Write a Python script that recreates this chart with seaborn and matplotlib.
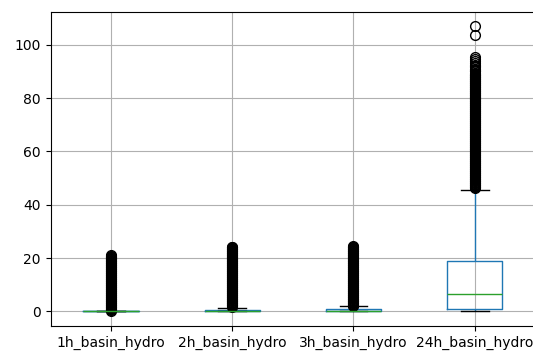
import numpy as np
import pandas as pd
import matplotlib
matplotlib.use("Agg")
import matplotlib.pyplot as plt
import seaborn as sns

# Basin rainfall accumulations (mm) for four aggregation windows
columns = ["1h_basin_hydro", "2h_basin_hydro", "3h_basin_hydro", "24h_basin_hydro"]

# Bulk of the observations, as (value, count) pairs
core_1h = [(0.0, 300)]
core_2h = [(0.0, 400), (0.7, 200), (1.4, 60)]
core_3h = [(0.0, 400), (0.8, 200), (1.9, 60)]
core_24h = [(0.0, 100), (1.0, 300), (6.6, 300), (19.0, 300), (45.4, 100)]

# Extreme observations lying beyond the whiskers
extreme_1h = [
    0.25, 0.5, 0.75, 1.0, 1.25, 1.5, 1.75, 2.0, 2.25, 2.5, 2.75, 3.0,
    3.25, 3.5, 3.75, 4.0, 4.25, 4.5, 4.75, 5.0, 5.25, 5.5, 5.75, 6.0,
    6.25, 6.5, 6.75, 7.0, 7.25, 7.5, 7.75, 8.0, 8.25, 8.5, 8.75, 9.0,
    9.25, 9.5, 9.75, 10.0, 10.25, 10.5, 10.75, 11.0, 11.25, 11.5, 11.75, 12.0,
    12.25, 12.5, 12.75, 13.0, 13.25, 13.5, 13.75, 14.0, 14.25, 14.5, 14.75, 15.0,
    15.25, 15.5, 15.75, 16.0, 16.25, 16.5, 16.75, 17.0, 17.25, 17.5, 17.75, 18.0,
    18.25, 18.5, 18.75, 19.0, 19.25, 19.5, 19.75, 20.0, 20.25, 20.5, 20.75, 21.0,
]
extreme_2h = [
    1.8, 2.0, 2.25, 2.5, 2.75, 3.0, 3.25, 3.5, 3.75, 4.0, 4.25, 4.5, 4.75, 5.0,
    5.25, 5.5, 5.75, 6.0, 6.25, 6.5, 6.75, 7.0, 7.25, 7.5, 7.75, 8.0,
    8.25, 8.5, 8.75, 9.0, 9.25, 9.5, 9.75, 10.0, 10.25, 10.5, 10.75, 11.0,
    11.25, 11.5, 11.75, 12.0, 12.25, 12.5, 12.75, 13.0, 13.25, 13.5, 13.75, 14.0,
    14.25, 14.5, 14.75, 15.0, 15.25, 15.5, 15.75, 16.0, 16.25, 16.5, 16.75, 17.0,
    17.25, 17.5, 17.75, 18.0, 18.25, 18.5, 18.75, 19.0, 19.25, 19.5, 19.75, 20.0,
    20.25, 20.5, 20.75, 21.0, 21.25, 21.5, 21.75, 22.0, 22.25, 22.5, 22.75, 23.0,
    23.25, 23.5, 23.75, 24.0, 24.2,
]
extreme_3h = [
    2.1, 2.25, 2.5, 2.75, 3.0, 3.25, 3.5, 3.75, 4.0, 4.25, 4.5, 4.75, 5.0,
    5.25, 5.5, 5.75, 6.0, 6.25, 6.5, 6.75, 7.0, 7.25, 7.5, 7.75, 8.0,
    8.25, 8.5, 8.75, 9.0, 9.25, 9.5, 9.75, 10.0, 10.25, 10.5, 10.75, 11.0,
    11.25, 11.5, 11.75, 12.0, 12.25, 12.5, 12.75, 13.0, 13.25, 13.5, 13.75, 14.0,
    14.25, 14.5, 14.75, 15.0, 15.25, 15.5, 15.75, 16.0, 16.25, 16.5, 16.75, 17.0,
    17.25, 17.5, 17.75, 18.0, 18.25, 18.5, 18.75, 19.0, 19.25, 19.5, 19.75, 20.0,
    20.25, 20.5, 20.75, 21.0, 21.25, 21.5, 21.75, 22.0, 22.25, 22.5, 22.75, 23.0,
    23.25, 23.5, 23.75, 24.0, 24.25, 24.5,
]
extreme_24h = [
    46.25, 46.5, 46.75, 47.0, 47.25, 47.5, 47.75, 48.0, 48.25, 48.5, 48.75, 49.0,
    49.25, 49.5, 49.75, 50.0, 50.25, 50.5, 50.75, 51.0, 51.25, 51.5, 51.75, 52.0,
    52.25, 52.5, 52.75, 53.0, 53.25, 53.5, 53.75, 54.0, 54.25, 54.5, 54.75, 55.0,
    55.25, 55.5, 55.75, 56.0, 56.25, 56.5, 56.75, 57.0, 57.25, 57.5, 57.75, 58.0,
    58.25, 58.5, 58.75, 59.0, 59.25, 59.5, 59.75, 60.0, 60.25, 60.5, 60.75, 61.0,
    61.25, 61.5, 61.75, 62.0, 62.25, 62.5, 62.75, 63.0, 63.25, 63.5, 63.75, 64.0,
    64.25, 64.5, 64.75, 65.0, 65.25, 65.5, 65.75, 66.0, 66.25, 66.5, 66.75, 67.0,
    67.25, 67.5, 67.75, 68.0, 68.25, 68.5, 68.75, 69.0, 69.25, 69.5, 69.75, 70.0,
    70.25, 70.5, 70.75, 71.0, 71.25, 71.5, 71.75, 72.0, 72.25, 72.5, 72.75, 73.0,
    73.25, 73.5, 73.75, 74.0, 74.25, 74.5, 74.75, 75.0, 75.25, 75.5, 75.75, 76.0,
    76.25, 76.5, 76.75, 77.0, 77.25, 77.5, 77.75, 78.0, 78.25, 78.5, 78.75, 79.0,
    79.25, 79.5, 79.75, 80.0, 80.25, 80.5, 80.75, 81.0, 81.25, 81.5, 81.75, 82.0,
    82.25, 82.5, 82.75, 83.0, 83.25, 83.5, 83.75, 84.0, 84.25, 84.5, 84.75, 85.0,
    85.25, 85.5, 85.75, 86.0, 86.25, 86.5, 86.75, 87.0, 87.25, 87.5, 87.75, 88.0,
    88.25, 88.5, 88.75, 89.0, 89.5, 90.0, 90.25, 90.5, 91.0, 91.5, 92.0,
    92.5, 93.0, 93.8, 94.5, 95.2,
    103.8, 107.0,
]

cores = [core_1h, core_2h, core_3h, core_24h]
extremes = [extreme_1h, extreme_2h, extreme_3h, extreme_24h]

frames = []
for name, core, ext in zip(columns, cores, extremes):
    vals = [v for v, n in core for _ in range(n)] + list(ext)
    frames.append(pd.DataFrame({"series": name, "value": vals}))
df = pd.concat(frames, ignore_index=True)

plt.rcParams["font.family"] = ["DejaVu Sans"]
plt.rcParams["font.size"] = 10

fig = plt.figure(figsize=(5.33, 3.54), dpi=100)
ax = fig.add_axes([0.0951, 0.0799, 0.909, 0.887])

blue = "#1f77b4"
sns.boxplot(
    data=df, x="series", y="value", order=columns,
    width=0.46, fill=False, whis=1.5, ax=ax,
    boxprops={"color": blue, "linewidth": 1.0},
    whiskerprops={"color": blue, "linewidth": 1.0},
    capprops={"color": "black", "linewidth": 1.0},
    medianprops={"color": "#2ca02c", "linewidth": 1.0},
    flierprops={"marker": "o", "markersize": 7, "markerfacecolor": "none",
                "markeredgecolor": "black", "markeredgewidth": 1.0},
)

ax.set_xlabel("")
ax.set_ylabel("")
ax.set_axisbelow("line")
ax.grid(True, color="#b0b0b0", linewidth=0.8)
for s in ax.spines.values():
    s.set_visible(True)
    s.set_color("black")
    s.set_linewidth(0.8)
ax.tick_params(direction="out", length=3.5, width=0.8)
ax.set_yticks([0, 20, 40, 60, 80, 100])

fig.savefig("out.png", dpi=100)
